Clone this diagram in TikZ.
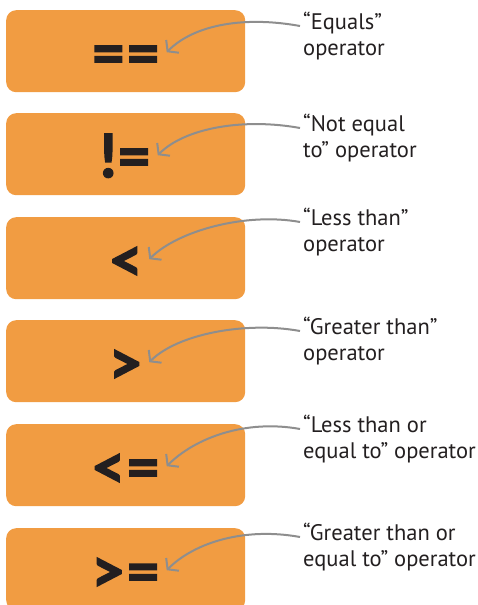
\documentclass[tikz,border=0pt]{standalone}
\usepackage{fontspec}
\setmainfont{PT Sans}
\newfontfamily\opfont[BoldFeatures={FakeBold=2.5}]{Lato}
\usetikzlibrary{arrows.meta,calc,positioning}
\definecolor{clBox}{HTML}{F19C42}
\definecolor{clPointer}{HTML}{8E8E8E}
\definecolor{clInk}{HTML}{231F20}
\tikzset{
  opbox/.style={rectangle, rounded corners=10pt, fill=clBox, minimum width=239pt,
                minimum height=82pt, anchor=north west, inner sep=0pt},
  opsym/.style={font=\opfont\bfseries\fontsize{60}{60}\selectfont, text=clInk,
                inner sep=0pt, anchor=base},
  oplabel/.style={font=\fontsize{22.5}{26}\selectfont, text=clInk, align=left,
                  anchor=base west, inner sep=0pt},
  pointer/.style={-{Straight Barb[length=7pt,width=18pt]}, line width=2pt, draw=clPointer},
}

\begin{document}
\begin{tikzpicture}[x=1pt,y=-1pt]
  \useasboundingbox (0,0) rectangle (478,605);
  % one row per operator: box, symbol, label, pointer
  \foreach \i/\ytop/\sym/\txt/\ybase in {
      1/10/{==}/{“Equals”\\operator}/55,
      2/113/{!=}/{“Not equal\\to” operator}/157,
      3/217/{<}/{“Less than”\\operator}/251,
      4/320/{>}/{“Greater than”\\operator}/360,
      5/424/{<=}/{“Less than or\\equal to” operator}/458,
      6/528/{>=}/{“Greater than or\\equal to” operator}/566}{
    \node[opbox] (box\i) at (6,\ytop) {};
    \node[opsym] (op\i) at ($(box\i.center)+(0,23)$) {\sym};
    \node[oplabel] (lbl\i) at (303,\ybase) {\txt};
    \draw[pointer] ($(lbl\i.base west)+(-3,-29)$) .. controls +(-55,-10) and +(28,-28)
      .. ($(box\i.center -| op\i.east)+(6,1)$);
  }
\end{tikzpicture}
\end{document}
